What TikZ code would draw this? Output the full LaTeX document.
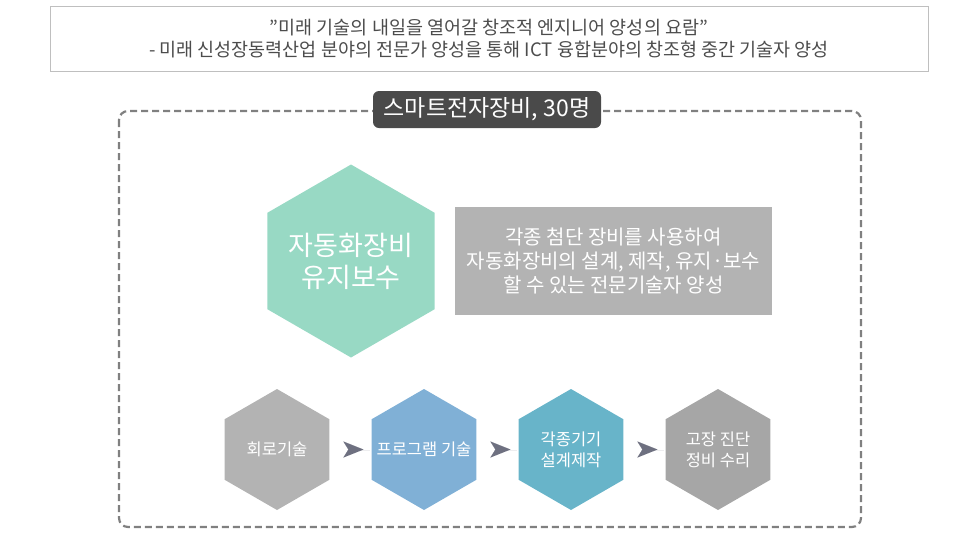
\documentclass[tikz,border=0pt]{standalone}
\usepackage{fontspec}
\setmainfont{Noto Sans CJK KR}
\usetikzlibrary{shapes.geometric,arrows.meta}
\definecolor{mint}{HTML}{98D9C4}
\definecolor{grayhex}{HTML}{B3B3B3}
\definecolor{bluehex}{HTML}{80B0D6}
\definecolor{tealhex}{HTML}{68B4C9}
\definecolor{darkhex}{HTML}{A6A6A6}
\definecolor{pill}{HTML}{4A4A4A}
\definecolor{tipcol}{HTML}{6E7080}
\begin{document}
\begin{tikzpicture}[
        x=1pt, y=-1pt,
        hexa/.style={regular polygon, regular polygon sides=6, shape border rotate=30,
            inner sep=0pt, minimum size=#1}, % Шестиугольник с вершиной сверху
        small/.style={hexa=121pt, font=\fontsize{16.5}{21}\selectfont, text=white, align=center},
        flow/.style={tipcol, line width=0.01pt, -{Stealth[length=20pt, width=16pt, inset=5pt]}, shorten <=40pt, shorten >=8pt},
    ]
    \useasboundingbox (0,0) rectangle (980,542);

    % верхняя рамка
    \node (head) [draw=gray!50, minimum width=878pt, minimum height=65pt, align=center,
        text=black!70, font=\fontsize{18.5}{22}\selectfont] at (489,38.5)
        {\symbol{34}미래 기술의 내일을 열어갈 창조적 엔지니어 양성의 요람\symbol{34}\\
         - 미래 신성장동력산업 분야의 전문가 양성을 통해 ICT 융합분야의 창조형 중간 기술자 양성};

    \draw[gray, line width=2.2pt, dash pattern=on 7pt off 4pt, rounded corners=9pt]
        (119,111) rectangle (861,527);

    \node (title) [fill=pill, rounded corners=6pt, minimum width=228pt, minimum height=37pt,
        text=white, font=\fontsize{23}{27}\selectfont] at (487,109.5) {스마트전자장비, 30명};

    % главный блок
    \node (main) [hexa=193pt, fill=mint, text=white, align=center,
        label={[text=white, align=center, font=\fontsize{27}{32}\selectfont]center:자동화장비\\유지보수}]
        at (351,261) {};
    \node (desc) [fill=grayhex, minimum width=317pt, minimum height=108pt, text=white, align=center,
        font=\fontsize{20}{24}\selectfont] at (613.5,261)
        {각종 첨단 장비를 사용하여\\자동화장비의 설계, 제작, 유지·보수\\할 수 있는 전문기술자 양성};

    % этапы
    \node (s1) [small, fill=grayhex, label={[small, minimum size=0pt]center:회로기술}] at (277,449.5) {};
    \node (s2) [small, fill=bluehex, label={[small, minimum size=0pt]center:프로그램 기술}] at (424,449.5) {};
    \node (s3) [small, fill=tealhex, label={[small, minimum size=0pt]center:각종기기\\설계제작}] at (571,449.5) {};
    \node (s4) [small, fill=darkhex, label={[small, minimum size=0pt]center:고장 진단\\정비 수리}] at (718,449.5) {};

    \foreach \a/\b in {s1/s2, s2/s3, s3/s4}
        \draw[flow] (\a.east) -- (\b.west);
\end{tikzpicture}
\end{document}
